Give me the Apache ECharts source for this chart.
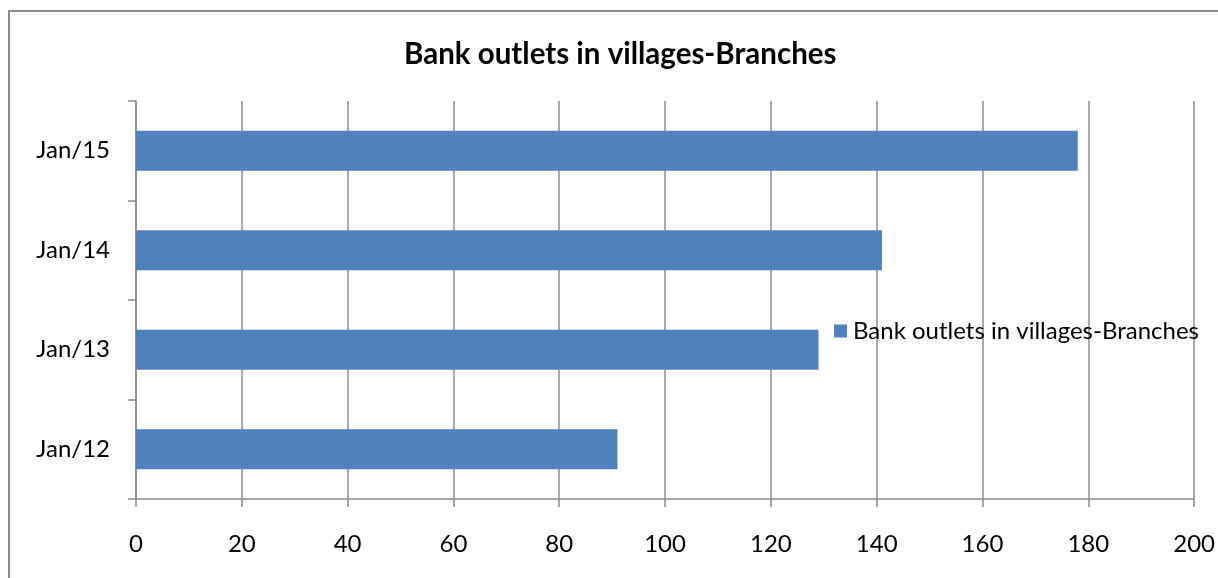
<!DOCTYPE html>
<html><head><meta charset="utf-8">
<script src="https://cdn.jsdelivr.net/npm/echarts@6/dist/echarts.min.js"></script>
<style>html,body{margin:0;padding:0;background:#fff}#c{width:1218px;height:578px}</style>
</head><body><div id="c"></div>
<script>
const categories = ['Jan/12', 'Jan/13', 'Jan/14', 'Jan/15'];
const values = [91, 129, 141, 178];
const seriesName = 'Bank outlets in villages-Branches';
const xTicks = [0, 20, 40, 60, 80, 100, 120, 140, 160, 180, 200];

const chart = echarts.init(document.getElementById('c'), null, {renderer: 'canvas'});
const font = 'Lato, "Open Sans", sans-serif';
chart.setOption({
  animation: false,
  backgroundColor: '#fff',
  title: {
    text: seriesName, left: 399, top: 34,
    textStyle: {fontFamily: font, fontWeight: 'bold', fontSize: 29.5, color: '#000'}
  },
  legend: {
    data: [seriesName], left: 829, top: 314, icon: 'rect', itemWidth: 13, itemHeight: 13,
    itemGap: 7,
    textStyle: {fontFamily: font, fontSize: 24, color: '#000', padding: [0, 0, 0, 1]}
  },
  graphic: [{
    type: 'rect', shape: {x: 9, y: 11, width: 1300, height: 700},
    style: {fill: 'none', stroke: '#8c8c8c', lineWidth: 2}, silent: true, z: -1
  }],
  grid: {left: 136, right: 23, top: 101, bottom: 79},
  xAxis: {
    type: 'value', min: xTicks[0], max: xTicks[xTicks.length - 1], interval: 20,
    axisLine: {show: true, lineStyle: {color: '#8c8c8c', width: 1.5}},
    axisTick: {show: true, length: 8, lineStyle: {color: '#8c8c8c', width: 1.5}},
    axisLabel: {fontFamily: font, fontSize: 24, color: '#000', margin: 33},
    splitLine: {show: true, lineStyle: {color: '#8c8c8c', width: 1.5}}
  },
  yAxis: {
    type: 'category', data: categories,
    axisLine: {show: true, lineStyle: {color: '#8c8c8c', width: 1.5}},
    axisTick: {show: true, length: 8, lineStyle: {color: '#8c8c8c', width: 1.5}},
    axisLabel: {fontFamily: font, fontSize: 24, color: '#000', margin: 26},
    splitLine: {show: false}
  },
  series: [{
    type: 'bar', name: seriesName, data: values, barWidth: '40%',
    itemStyle: {color: '#4F81BD'}
  }]
});
</script></body></html>
